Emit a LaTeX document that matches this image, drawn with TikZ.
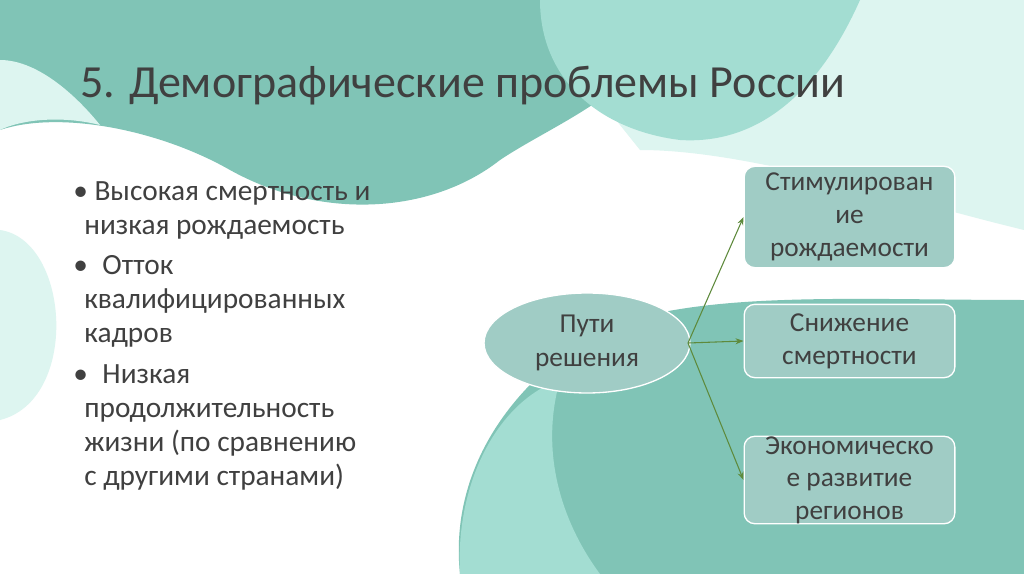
\documentclass[tikz,border=0pt]{standalone}
\usepackage{fontspec}
\setmainfont{Carlito}
\usetikzlibrary{shapes.geometric,arrows.meta}
\definecolor{mint}{HTML}{DDF5F0}
\definecolor{teal1}{HTML}{80C4B6}
\definecolor{teal2}{HTML}{A3DDD2}
\definecolor{boxc}{HTML}{A0CCC5}
\definecolor{arr}{HTML}{5E8A3C}
\definecolor{txt}{HTML}{404040}
\tikzset{box/.style={draw=white,line width=1pt,fill=boxc,rounded corners=8pt,text=txt,font=\fontsize{20.5}{24.5}\selectfont,align=center,inner sep=0pt},
con/.style={draw=arr,line width=0.8pt,-{Stealth[length=6pt]}}}
\begin{document}
\begin{tikzpicture}[x=0.75pt,y=-0.75pt]
\useasboundingbox (0,0) rectangle (1024,574);
\fill[white] (0,0) rectangle (1024,574);
\fill[mint] (0,230) .. controls (70,240) and (80,400) .. (0,420) -- cycle;
\fill[mint] (520,0) -- (1024,0) -- (1024,230) .. controls (900,200) and (750,150) .. (640,150) -- cycle;
\fill[teal1] (0,0) -- (680,0) .. controls (650,90) and (560,120) .. (500,160) .. controls (430,215) and (320,220) .. (230,170) .. controls (160,130) and (60,110) .. (0,130) -- cycle;
\fill[mint] (0,60) .. controls (40,60) and (80,100) .. (100,125) .. controls (60,115) and (20,120) .. (0,130) -- cycle;
\fill[teal2] (540,0) .. controls (540,80) and (600,130) .. (680,140) .. controls (760,145) and (820,90) .. (860,0) -- cycle;
\fill[white] (680,230) .. controls (800,190) and (920,250) .. (1024,260) -- (1024,300) -- (680,300) -- cycle;
\fill[teal1] (460,574) .. controls (450,480) and (500,390) .. (600,330) .. controls (700,290) and (850,300) .. (1024,300) -- (1024,574) -- cycle;
\fill[teal2] (460,574) .. controls (455,480) and (500,400) .. (560,380) .. controls (540,450) and (560,520) .. (600,574) -- cycle;
\node[anchor=west,text=txt,font=\fontsize{34.5}{40}\selectfont,inner sep=0pt] (title) at (80,86) {5. Демографические проблемы России};
\node[anchor=north west,text=txt,font=\fontsize{22}{25.5}\selectfont,align=left,inner sep=0pt] (list) at (73,181) {%
•\hspace{5pt}Высокая смертность и\\\hspace{8.3pt}низкая рождаемость\\[5pt]
•\hspace{6pt} Отток\\\hspace{8.3pt}квалифицированных\\\hspace{8.3pt}кадров\\[5pt]
•\hspace{6pt} Низкая\\\hspace{8.3pt}продолжительность\\\hspace{8.3pt}жизни (по сравнению\\\hspace{8.3pt}с другими странами)};
\node[ellipse,draw=white,line width=1pt,fill=boxc,minimum width=154.5pt,minimum height=75pt,text=txt,font=\fontsize{20.5}{26}\selectfont,align=center,inner sep=0pt] (e) at (587,343) {Пути\\решения};
\node[box,minimum width=158pt,minimum height=76pt] (b1) at (849.5,217) {Стимулирован\\ие\\рождаемости};
\node[box,minimum width=158pt,minimum height=55pt] (b2) at (849.5,341) {Снижение\\смертности};
\node[box,minimum width=158pt,minimum height=60pt] (b3) at (849.5,480) {Экономическо\\е развитие\\регионов};
\coordinate (o) at (688,343);
\draw[con] (o) -- (b1.west);
\draw[con] (o) -- (b2.west);
\draw[con] (o) -- (b3.west);
\end{tikzpicture}
\end{document}
